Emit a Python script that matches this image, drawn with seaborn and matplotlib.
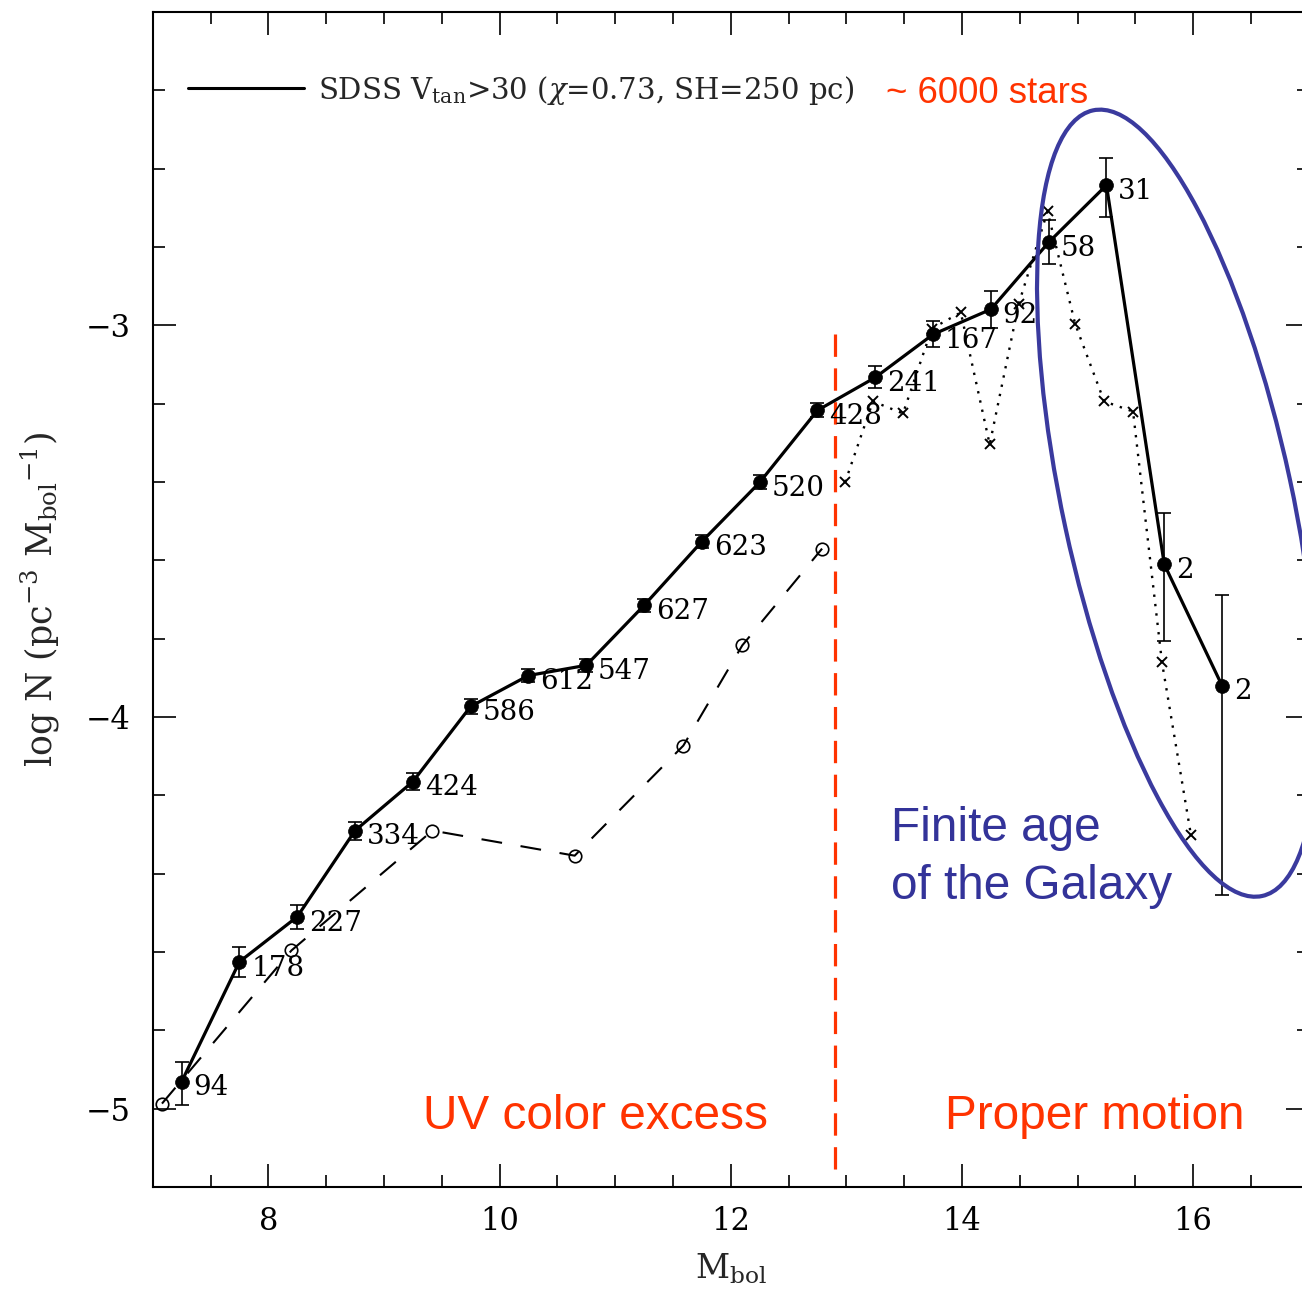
import numpy as np
import pandas as pd
import matplotlib
matplotlib.use("Agg")
import matplotlib.pyplot as plt
import matplotlib.transforms as mtransforms
from matplotlib.patches import Ellipse
from matplotlib.lines import Line2D
from matplotlib.ticker import MultipleLocator
import seaborn as sns

# ---------------- data ----------------
sdss_mbol = [7.25, 7.75, 8.25, 8.75, 9.25, 9.75, 10.25, 10.75, 11.25, 11.75,
             12.25, 12.75, 13.25, 13.75, 14.25, 14.75, 15.25, 15.75, 16.25]
sdss_logn = [-4.931, -4.625, -4.510, -4.290, -4.165, -3.973, -3.894, -3.868, -3.715, -3.552,
             -3.401, -3.217, -3.133, -3.023, -2.959, -2.788, -2.642, -3.610, -3.920]
sdss_err_lo = [0.059, 0.038, 0.031, 0.023, 0.022, 0.018, 0.016, 0.016, 0.017, 0.017,
               0.018, 0.018, 0.028, 0.033, 0.047, 0.056, 0.082, 0.197, 0.534]
sdss_err_hi = [0.051, 0.038, 0.031, 0.023, 0.022, 0.018, 0.016, 0.016, 0.017, 0.017,
               0.018, 0.018, 0.028, 0.033, 0.047, 0.056, 0.069, 0.130, 0.232]
sdss_counts = ["94", "178", "227", "334", "424", "586", "612", "547", "627", "623",
               "520", "428", "241", "167", "92", "58", "31", "2", "2"]

uv_mbol = [7.08, 8.20, 9.42, 10.65, 11.59, 12.10, 12.79]
uv_logn = [-4.987, -4.596, -4.290, -4.354, -4.073, -3.817, -3.570]

pm_mbol = [12.99, 13.23, 13.49, 13.74, 13.99, 14.24, 14.49, 14.74, 14.98, 15.23, 15.48, 15.73, 15.98]
pm_logn = [-3.400, -3.194, -3.225, -3.008, -2.967, -3.304, -2.946, -2.709, -2.997, -3.194, -3.220, -3.860, -4.300]

legend_label = r"SDSS V$_{\rm tan}$>30 ($\chi$=0.73, SH=250 pc)"
xlabel = r"M$_{\rm bol}$"
ylabel = r"log N (pc$^{-3}$ M$_{\rm bol}$$^{-1}$)"

df_sdss = pd.DataFrame({"Mbol": sdss_mbol, "logN": sdss_logn})
df_uv = pd.DataFrame({"Mbol": uv_mbol, "logN": uv_logn})
df_pm = pd.DataFrame({"Mbol": pm_mbol, "logN": pm_logn})

RED = "#FF3300"
BLUE = "#333399"
ELL = "#3A3A9E"

# ---------------- style ----------------
sns.set_style("ticks")
plt.rcParams["font.family"] = ["DejaVu Serif"]
plt.rcParams["mathtext.fontset"] = "dejavuserif"
plt.rcParams["axes.linewidth"] = 1.5

fig = plt.figure(figsize=(13.02, 12.96), dpi=100)
ax = fig.add_axes([0.1173, 0.0841, 0.8879, 0.9066])
ax.set_xlim(7, 17)
ax.set_ylim(-5.2, -2.2)

# dotted crosses (proper motion sample)
sns.lineplot(data=df_pm, x="Mbol", y="logN", sort=False, errorbar=None, ax=ax,
             color="black", lw=1.7, linestyle=(0, (1, 3)),
             marker="x", markersize=7, markeredgewidth=1.4, markeredgecolor="black", zorder=2)
# dashed open circles (UV excess sample)
sns.lineplot(data=df_uv, x="Mbol", y="logN", sort=False, errorbar=None, ax=ax,
             color="black", lw=1.5, linestyle=(0, (10, 9)),
             marker="o", markersize=9, markerfacecolor="none", markeredgewidth=1.2,
             markeredgecolor="black", zorder=2)
# solid SDSS line
sns.lineplot(data=df_sdss, x="Mbol", y="logN", sort=False, errorbar=None, ax=ax,
             color="black", lw=2.3, marker="o", markersize=10, markerfacecolor="black",
             markeredgecolor="black", markeredgewidth=0.5, zorder=3)
ax.errorbar(sdss_mbol, sdss_logn, yerr=[sdss_err_lo, sdss_err_hi], fmt="none",
            ecolor="black", elinewidth=1.2, capsize=4.7, capthick=1.2, zorder=3)

for xv, yv, lab in zip(sdss_mbol, sdss_logn, sdss_counts):
    ax.annotate(lab, (xv, yv), xytext=(8.5, -4.5), textcoords="offset points",
                fontsize=20, ha="left", va="center", color="black")

# legend
handle = Line2D([], [], color="black", lw=2.2)
ax.legend([handle], [legend_label], loc="center left", bbox_to_anchor=(0.0303, 0.9336),
          frameon=False, fontsize=21, handlelength=4.0, handletextpad=0.45,
          borderpad=0, borderaxespad=0)

# ticks
ax.xaxis.set_major_locator(MultipleLocator(2))
ax.xaxis.set_minor_locator(MultipleLocator(0.5))
ax.yaxis.set_major_locator(MultipleLocator(1))
ax.yaxis.set_minor_locator(MultipleLocator(0.2))
ax.tick_params(which="both", direction="in", top=True, right=True, width=1.2, colors="black")
ax.tick_params(which="major", length=16.5, labelsize=22, pad=14)
ax.tick_params(which="minor", length=8.5)
ax.tick_params(axis="y", which="major", pad=16)
for s in ax.spines.values():
    s.set_visible(True)
    s.set_color("black")

ax.set_xlabel(xlabel, fontsize=24, labelpad=10)
ax.set_ylabel(ylabel, fontsize=25, labelpad=17)

# separator and annotations (drawn top to bottom so the dash pattern starts at the top)
ax.plot([12.905, 12.905], [-3.023, -5.174], color=RED, lw=2.3, linestyle=(0, (7, 3.6)), zorder=1)
ax.text(0.2336, 0.060, "UV color excess", transform=ax.transAxes, color=RED,
        fontsize=34.4, family="Liberation Sans", ha="left", va="center")
ax.text(0.685, 0.060, "Proper motion", transform=ax.transAxes, color=RED,
        fontsize=34.4, family="Liberation Sans", ha="left", va="center")
ax.text(0.634, 0.931, "~ 6000 stars", transform=ax.transAxes, color=RED,
        fontsize=26.4, family="Liberation Sans", ha="left", va="center")
ax.text(0.639, 0.305, "Finite age", transform=ax.transAxes, color=BLUE,
        fontsize=34.4, family="Liberation Sans", ha="left", va="center")
ax.text(0.639, 0.256, "of the Galaxy", transform=ax.transAxes, color=BLUE,
        fontsize=34.4, family="Liberation Sans", ha="left", va="center")

# ellipse (centre in data coords, size in inches on the page)
etrans = fig.dpi_scale_trans + mtransforms.ScaledTranslation(15.865, -3.454, ax.transData)
ell = Ellipse((0, 0), width=8.036, height=2.296, angle=-77.85, transform=etrans,
              fill=False, edgecolor=ELL, lw=3.0, clip_on=False, zorder=4)
ax.add_artist(ell)

fig.savefig("out.png", dpi=100)
